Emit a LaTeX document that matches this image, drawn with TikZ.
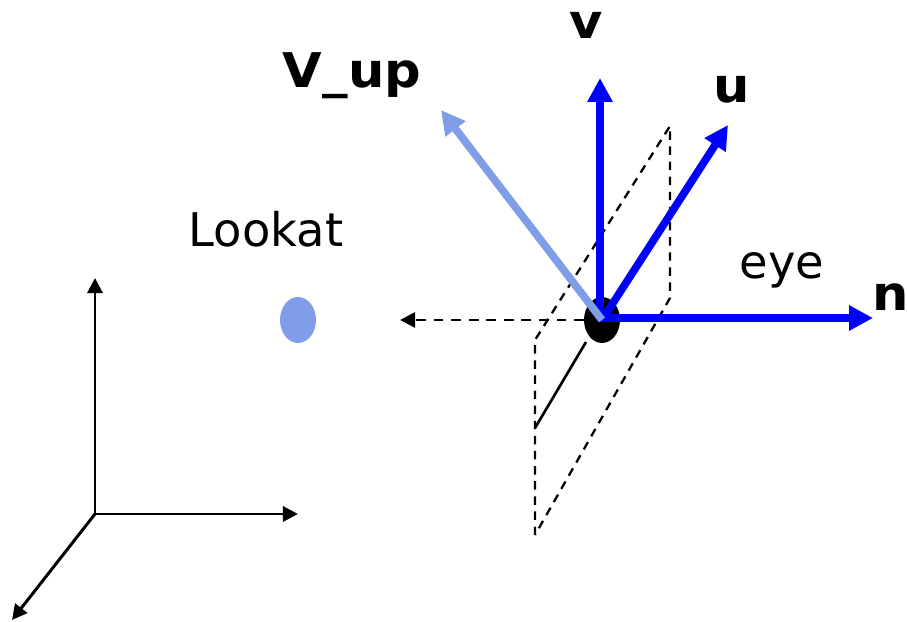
\documentclass[tikz,border=0pt]{standalone}
\usepackage{fontspec}
\setmainfont{DejaVu Sans}
\usetikzlibrary{arrows.meta,shapes.geometric}
\definecolor{vupblue}{RGB}{128,158,232}
\definecolor{axisblue}{RGB}{0,0,255}
\tikzset{
  thinarrow/.style={-{Triangle[length=4.3pt,width=4.3pt]},line width=0.85pt,black},
  thickarrow/.style={-{Triangle[length=6.8pt,width=6.8pt]},line width=2.2pt,axisblue},
  planeline/.style={dashed,dash pattern=on 2.4pt off 1.9pt,line width=0.65pt,black},
  biglabel/.style={font=\bfseries\fontsize{13.6}{13.6}\selectfont,inner sep=0pt,anchor=base,xscale=1.07},
  smalllabel/.style={font=\fontsize{13.2}{13.2}\selectfont,inner sep=0pt,anchor=base},
}
\begin{document}
\begin{tikzpicture}
  \useasboundingbox (0,0) rectangle (9.07,6.21);
  % world axes
  \coordinate (o) at (0.95,1.07);
  \coordinate (wy) at (0.95,3.43);
  \coordinate (wx) at (2.98,1.07);
  \coordinate (wz) at (0.12,0.01);
  \draw[thinarrow] (o) -- (wy);
  \draw[thinarrow] (o) -- (wx);
  \draw[thinarrow] (o) -- (wz);
  % view plane
  \coordinate (p1) at (5.35,0.86);
  \coordinate (p2) at (5.35,2.81);
  \coordinate (p3) at (6.70,4.95);
  \coordinate (p4) at (6.70,3.23);
  \draw[planeline] (p1) -- (p2) -- (p3) -- (p4) -- cycle;
  \coordinate (q1) at (5.35,1.93);
  \coordinate (q2) at (5.86,2.79);
  \draw[line width=0.75pt] (q1) -- (q2);
  % points
  \node[ellipse,fill=vupblue,minimum width=0.36cm,minimum height=0.46cm,inner sep=0pt,outer sep=0pt] (lookat) at (2.98,3.01) {};
  \node[ellipse,fill=black,minimum width=0.36cm,minimum height=0.46cm,inner sep=0pt,outer sep=0pt] (eye) at (6.02,3.01) {};
  \coordinate (back) at (4.00,3.01);
  \draw[thinarrow,dashed,dash pattern=on 2.8pt off 2.2pt,line width=0.75pt] (eye.west) -- (back);
  % camera axes
  \coordinate (nend) at (8.73,3.03);
  \coordinate (vend) at (6.00,5.43);
  \coordinate (uend) at (7.28,4.96);
  \coordinate (vupend) at (4.41,5.11);
  \draw[thickarrow] (6.00,3.03) -- (nend);
  \draw[thickarrow] (6.00,3.03) -- (vend);
  \draw[thickarrow] (6.02,3.01) -- (uend);
  \draw[thickarrow,vupblue] (6.02,3.01) -- (vupend);
  % labels
  \node[smalllabel] (lookatlabel) at (2.66,3.74) {Lookat};
  \node[smalllabel] (eyelabel) at (7.82,3.42) {eye};
  \node[biglabel] (nlabel) at (8.91,3.10) {n};
  \node[biglabel] (vlabel) at (5.86,5.82) {v};
  \node[biglabel] (ulabel) at (7.32,5.18) {u};
  \node[biglabel] (vuplabel) at (3.52,5.33) {V\_up};
\end{tikzpicture}
\end{document}
